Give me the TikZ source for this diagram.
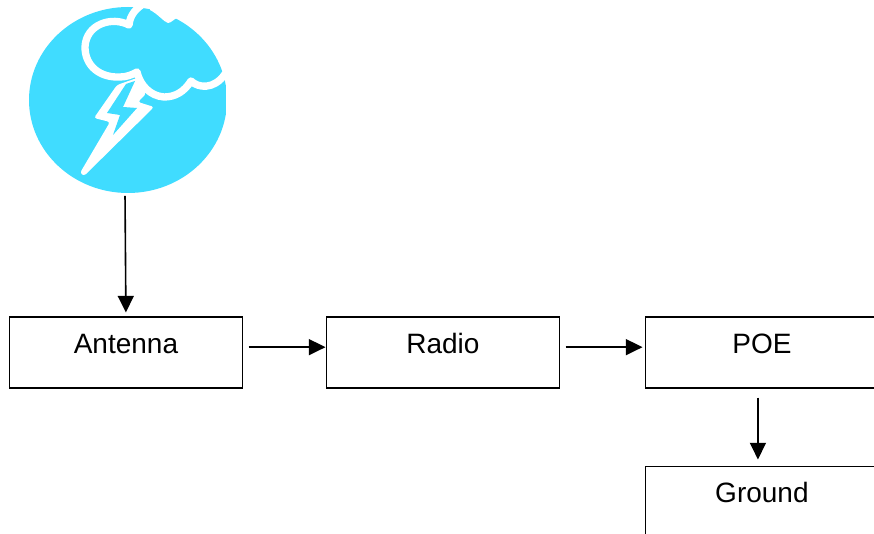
\documentclass[tikz,border=0pt]{standalone}
\usepackage{fontspec}
\setmainfont{Liberation Sans}
\usetikzlibrary{arrows.meta}
\usetikzlibrary{shapes.geometric}

\definecolor{stormblue}{RGB}{64,220,255}

\tikzset{
	unitbox/.style={draw,line width=1.4pt,anchor=north west,inner sep=0pt,minimum width=174.75pt,text height=27pt,text depth=26pt,font=\fontsize{21}{21}\selectfont},
	flowline/.style={line width=1.2pt,-{Triangle[length=12.5pt,width=12pt]}},
	cloudline/.style={white,line width=5.5pt,line cap=round,line join=round}
}

\begin{document}
\begin{tikzpicture}[x=0.75pt,y=-0.75pt]

	\useasboundingbox (0,0) rectangle (874,534);
	\clip (0,0) rectangle (874,534);

	\node (storm) [ellipse,fill=stormblue,inner sep=0pt,minimum width=148.5pt,minimum height=139.5pt] at (128,100) {};

	% cut on the right, then the cloud and the bolt
	\fill[white] (226,0) rectangle (240,200);
	\fill[white] (150,10) .. controls (158,14) and (164,22) .. (168,23) .. controls (171,23) and (174,19) .. (177,18) -- (178,0) -- (150,0) -- cycle;

	\draw[cloudline] (145,3) .. controls (136,8) and (130,15) .. (129,25) .. controls (112,16) and (86,24) .. (85,47) .. controls (85,66) and (100,78) .. (120,77) .. controls (126,77) and (132,75) .. (137,72) .. controls (140,85) and (150,96) .. (164,97) .. controls (175,97) and (184,92) .. (191,81) .. controls (198,88) and (214,90) .. (225,74);

	\fill[white,rounded corners=2pt] (117,85) -- (94,118) -- (110,122) -- (80,173) -- (84,176) -- (154,107) -- (138,102) -- (146,94) -- (137,78) -- cycle;
	\fill[stormblue] (126,84) -- (135,81) -- (123,107) -- (137,108) -- (113,135) -- (120,115) -- (107,113) -- cycle;

	\node (antenna) [unitbox] at (8.5,316.5) {Antenna};
	\node (radio) [unitbox] at (325.5,316.5) {Radio};
	\node (poe) [unitbox] at (644.5,316.5) {POE};
	\node (ground) [unitbox] at (644.5,465.5) {Ground};

	\draw[flowline,shorten <=2pt,shorten >=3pt] ([xshift=-2.25pt]storm.south) -- (antenna.north);
	\draw[flowline,shorten <=4pt] ([yshift=4.2pt]antenna.east) -- ([yshift=4.2pt]radio.west);
	\draw[flowline,shorten <=4pt,shorten >=1.5pt] ([yshift=4.2pt]radio.east) -- ([yshift=4.2pt]poe.west);
	\draw[flowline,shorten <=6.5pt,shorten >=4.5pt] ([xshift=-3pt]poe.south) -- ([xshift=-3pt]ground.north);

\end{tikzpicture}
\end{document}
